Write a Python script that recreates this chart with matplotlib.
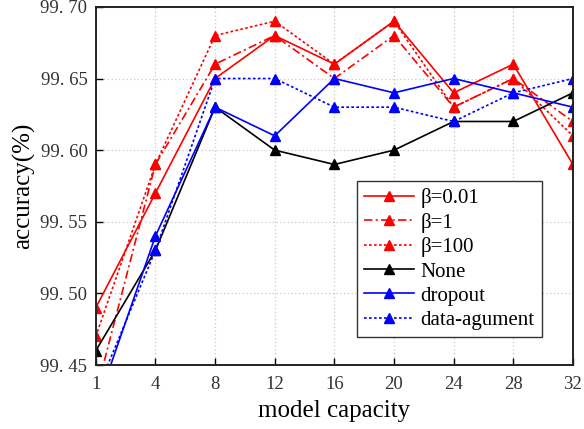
import matplotlib
matplotlib.use("Agg")
import matplotlib.pyplot as plt

# model capacities (drawn as equally spaced categories)
capacity = ["1", "4", "8", "12", "16", "20", "24", "28", "32"]

# accuracy (%) for each method
beta_001 = [99.49, 99.57, 99.65, 99.68, 99.66, 99.69, 99.64, 99.66, 99.59]
beta_1 = [99.43, 99.59, 99.66, 99.68, 99.65, 99.68, 99.63, 99.65, 99.62]
beta_100 = [99.47, 99.59, 99.68, 99.69, 99.66, 99.69, 99.63, 99.65, 99.61]
none = [99.46, 99.53, 99.63, 99.60, 99.59, 99.60, 99.62, 99.62, 99.64]
dropout = [99.42, 99.54, 99.63, 99.61, 99.65, 99.64, 99.65, 99.64, 99.63]
data_aug = [99.43, 99.53, 99.65, 99.65, 99.63, 99.63, 99.62, 99.64, 99.65]

y_ticks = [99.45, 99.50, 99.55, 99.60, 99.65, 99.70]
y_ticklabels = ["99. 45", "99. 50", "99. 55", "99. 60", "99. 65", "99. 70"]

plt.rcParams["font.family"] = ["Liberation Serif", "DejaVu Serif"]

fig = plt.figure(figsize=(5.84, 4.29), dpi=100)
ax = fig.add_axes([0.164, 0.149, 0.817, 0.835])

xs = list(range(len(capacity)))
dotted = (0, (1.6, 1.4))
dashdot = (0, (5, 2, 1.2, 2))

series = [
    (beta_001, "#ff0000", "-", "β=0.01"),
    (beta_1, "#ff0000", dashdot, "β=1"),
    (beta_100, "#ff0000", dotted, "β=100"),
    (none, "#000000", "-", "None"),
    (dropout, "#0000ff", "-", "dropout"),
    (data_aug, "#0000ff", dotted, "data-agument"),
]

for vals, color, ls, label in series:
    ax.plot(xs, vals, color=color, linestyle=ls, linewidth=1.2,
            marker="^", markersize=7.5, label=label)

ax.set_xlim(0, len(capacity) - 1)
ax.set_ylim(99.45, 99.70)
ax.set_xticks(xs)
ax.set_xticklabels(capacity)
ax.set_yticks(y_ticks)
ax.set_yticklabels(y_ticklabels)

ax.grid(True, color="#c8c8c8", linestyle=(0, (1, 2)), linewidth=0.9)
ax.tick_params(direction="in", length=5, width=1, labelsize=13.5, colors="black")
ax.tick_params(axis="x", pad=8)
ax.tick_params(axis="y", pad=6)
for lbl in ax.get_xticklabels() + ax.get_yticklabels():
    lbl.set_color("#333333")
for sp in ax.spines.values():
    sp.set_linewidth(1.4)
    sp.set_color("#222222")

ax.set_xlabel("model capacity", fontsize=18, labelpad=5)
ax.set_ylabel("accuracy(%)", fontsize=18, labelpad=4)

leg = ax.legend(loc="lower right", bbox_to_anchor=(0.935, 0.078), fontsize=15,
                handlelength=2.4, labelspacing=0.22, handletextpad=0.3,
                borderpad=0.35, borderaxespad=0.0, fancybox=False, framealpha=1)
leg.get_frame().set_edgecolor("#333333")
leg.get_frame().set_linewidth(1.0)

fig.savefig("out.png", dpi=100)
